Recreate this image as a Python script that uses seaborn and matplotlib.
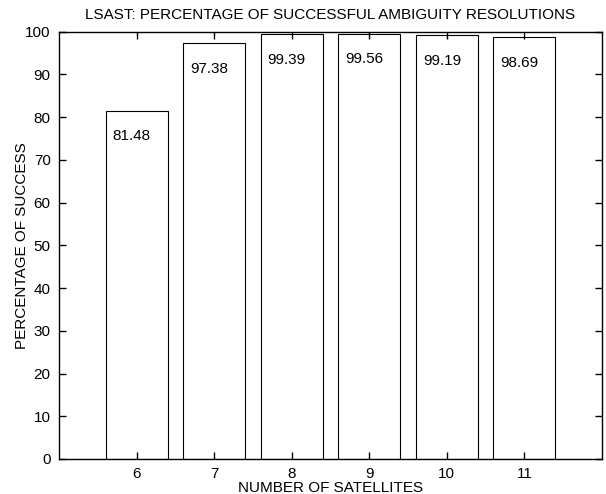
import pandas as pd
import matplotlib.pyplot as plt
import seaborn as sns

# data
satellites = [6, 7, 8, 9, 10, 11]
success_pct = [81.48, 97.38, 99.39, 99.56, 99.19, 98.69]
labels = ['81.48', '97.38', '99.39', '99.56', '99.19', '98.69']

df = pd.DataFrame({'sats': satellites, 'pct': success_pct})

sns.set_style('ticks')
plt.rcParams['font.family'] = ['Liberation Sans', 'DejaVu Sans']
plt.rcParams['text.color'] = 'black'
plt.rcParams['axes.labelcolor'] = 'black'
plt.rcParams['xtick.direction'] = 'in'
plt.rcParams['ytick.direction'] = 'in'
plt.rcParams['xtick.major.size'] = 5
plt.rcParams['ytick.major.size'] = 5
plt.rcParams['xtick.major.width'] = 1
plt.rcParams['ytick.major.width'] = 1

fig = plt.figure(figsize=(6.06, 4.94), dpi=100)
ax = fig.add_axes([0.0974, 0.0709, 0.8960, 0.8649])

sns.barplot(data=df, x='sats', y='pct', native_scale=True, color='white',
            edgecolor='black', linewidth=0.8, saturation=1, ax=ax)

# labels inside the bars, like matlab text(x-0.3, y-6, ...)
for x, y, lab in zip(satellites, success_pct, labels):
    ax.text(x - 0.31, y - 6, lab, ha='left', va='center', fontsize=11, color='black')

ax.set_xlim(5, 12)
ax.set_ylim(0, 100)
ax.set_xticks(satellites)
ax.set_yticks(range(0, 101, 10))
ax.tick_params(which='major', direction='in', length=5, width=1, bottom=True, left=True,
               top=True, right=True, labelsize=11, color='black', labelcolor='black', pad=6)
ax.set_axisbelow(False)
for s in ax.spines.values():
    s.set_visible(True)
    s.set_color('black')
    s.set_linewidth(1.0)

ax.set_title('LSAST: PERCENTAGE OF SUCCESSFUL AMBIGUITY RESOLUTIONS', fontsize=11, pad=9)
ax.set_xlabel('NUMBER OF SATELLITES', fontsize=11, labelpad=0)
ax.set_ylabel('PERCENTAGE OF SUCCESS', fontsize=11, labelpad=-3)

fig.savefig('out.png', dpi=100)
